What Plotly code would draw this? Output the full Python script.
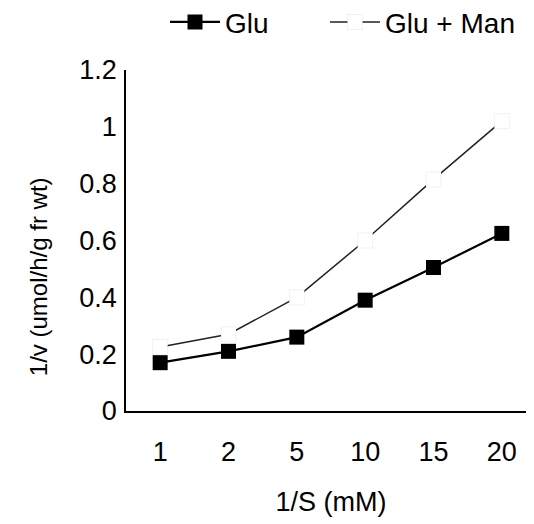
import plotly.graph_objects as go

categories = ["1", "2", "5", "10", "15", "20"]
glu = [0.17, 0.21, 0.26, 0.39, 0.505, 0.625]
glu_man = [0.225, 0.27, 0.40, 0.60, 0.815, 1.02]
y_ticks = [0, 0.2, 0.4, 0.6, 0.8, 1, 1.2]
y_tick_labels = ["0", "0.2", "0.4", "0.6", "0.8", "1", "1.2"]

font_family = "Liberation Sans, Arial, sans-serif"

fig = go.Figure()
fig.add_trace(go.Scatter(
    x=categories, y=glu, name="Glu", mode="lines+markers",
    line=dict(color="black", width=2.2),
    marker=dict(symbol="square", size=15, color="black"),
    legend="legend",
))
fig.add_trace(go.Scatter(
    x=categories, y=glu_man, name="Glu + Man", mode="lines+markers",
    line=dict(color="#222222", width=1.5),
    marker=dict(symbol="square", size=15, color="white",
                line=dict(color="rgba(170,170,170,0.15)", width=1)),
    legend="legend2",
))

# page body has a small margin, so the figure is drawn slightly smaller
W, H = 529, 516
legend_style = dict(orientation="h", xref="container", xanchor="left",
                    yref="paper", y=1.14, yanchor="middle",
                    font=dict(family=font_family, size=28), itemwidth=50,
                    bgcolor="rgba(0,0,0,0)")
fig.update_layout(
    width=W, height=H,
    margin=dict(l=118, r=1, t=62, b=113, autoexpand=False),
    paper_bgcolor="white", plot_bgcolor="white",
    font=dict(family=font_family, size=27, color="black"),
    showlegend=True,
    legend=dict(x=157 / W, **legend_style),
    legend2=dict(x=317 / W, **legend_style),
    xaxis=dict(
        type="category", showline=True, linecolor="black", linewidth=1.5,
        showgrid=False, zeroline=False, ticks="", automargin=False,
        tickfont=dict(size=27), ticklabelstandoff=16,
        title=dict(text="1/S (mM)", font=dict(size=27), standoff=26),
        range=[-0.5, 5.5],
    ),
    yaxis=dict(
        range=[0, 1.2], tickvals=y_ticks, ticktext=y_tick_labels,
        showline=True, linecolor="black", linewidth=1.5,
        showgrid=False, zeroline=False, ticks="", automargin=False,
        tickfont=dict(size=27), ticklabelstandoff=2,
    ),
    annotations=[dict(
        text="1/v (umol/h/g fr wt)", textangle=-90,
        xref="paper", yref="paper", x=-0.215, y=0.395,
        xanchor="center", yanchor="middle", showarrow=False,
        font=dict(family=font_family, size=24, color="black"),
    )],
)

fig.write_html("out.html")
